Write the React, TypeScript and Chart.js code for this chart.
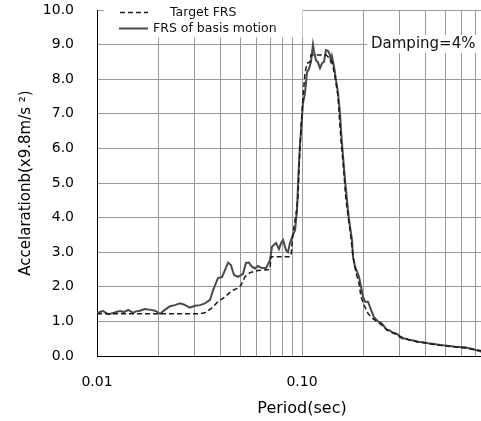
import React, { useEffect, useRef } from "react";
import { Chart, registerables } from "chart.js";

Chart.register(...registerables);

const FONT = "'DejaVu Sans', sans-serif";

// Target FRS (dashed)
const targetPeriods = [
  0.01, 0.0318, 0.0336, 0.0364, 0.0389, 0.0421, 0.0455, 0.0487, 0.0504, 0.0527,
  0.0558, 0.061, 0.0683, 0.0698, 0.0706, 0.0874, 0.0885, 0.0904, 0.0935, 0.0956,
  0.0975, 0.0989, 0.1011, 0.1034, 0.1058, 0.1095, 0.1106, 0.1309, 0.1339, 0.1401,
  0.1449, 0.1499, 0.1533, 0.1562, 0.1591, 0.1639, 0.1715, 0.1774, 0.1835, 0.1897,
  0.1941, 0.2007, 0.2099, 0.2195, 0.2348, 0.2484, 0.26, 0.278, 0.294, 0.31,
  0.34, 0.37, 0.41, 0.47, 0.56, 0.62, 0.68, 0.75, 1.0,
];
const targetValues = [
  1.22, 1.22, 1.25, 1.39, 1.57, 1.71, 1.89, 1.96, 2.05, 2.29,
  2.41, 2.47, 2.49, 2.52, 2.87, 2.87, 2.92, 3.55, 4.1, 4.6,
  5.9, 6.6, 7.5, 8.17, 8.46, 8.5, 8.7, 8.7, 8.65, 8.5,
  8.07, 7.5, 6.6, 6.0, 5.5, 4.5, 3.64, 2.87, 2.39, 2.1,
  1.71, 1.47, 1.23, 1.1, 0.97, 0.87, 0.75, 0.66, 0.6, 0.53,
  0.45, 0.4, 0.36, 0.31, 0.26, 0.23, 0.2, 0.15, 0.1,
];

// FRS of basis motion (solid)
const basisPeriods = [
  0.01, 0.0104, 0.0107, 0.0111, 0.0114, 0.012, 0.0125, 0.013, 0.0135, 0.0142,
  0.015, 0.0155, 0.0162, 0.0171, 0.018, 0.0192, 0.0203, 0.0215, 0.0227, 0.024,
  0.0254, 0.0265, 0.0284, 0.0301, 0.0318, 0.0336, 0.0356, 0.0368, 0.038, 0.0389,
  0.0407, 0.0421, 0.0436, 0.045, 0.0466, 0.0487, 0.0515, 0.0533, 0.0551, 0.057,
  0.059, 0.061, 0.0638, 0.0667, 0.0698, 0.0714, 0.0747, 0.0772, 0.079, 0.0808,
  0.0836, 0.0854, 0.0874, 0.0904, 0.0925, 0.0945, 0.096, 0.0975, 0.0989, 0.1011,
  0.1034, 0.1058, 0.1082, 0.1106, 0.1131, 0.1144, 0.117, 0.1197, 0.1224, 0.1252,
  0.128, 0.1309, 0.1339, 0.137, 0.1385, 0.1401, 0.1433, 0.1465, 0.1499, 0.1533,
  0.1562, 0.1591, 0.1621, 0.1658, 0.1696, 0.1754, 0.1774, 0.1814, 0.1855, 0.1897,
  0.1941, 0.1985, 0.203, 0.2099, 0.2171, 0.2245, 0.2348, 0.242, 0.2484, 0.254,
  0.2598, 0.268, 0.2779, 0.286, 0.2939, 0.3, 0.3074, 0.32, 0.3363, 0.35,
  0.3681, 0.39, 0.4117, 0.44, 0.4711, 0.51, 0.5576, 0.6239, 0.675, 0.7467,
  0.85, 1.0,
];
const basisValues = [
  1.24, 1.28, 1.3, 1.24, 1.21, 1.24, 1.28, 1.3, 1.27, 1.33,
  1.25, 1.29, 1.31, 1.36, 1.34, 1.31, 1.22, 1.34, 1.44, 1.47,
  1.52, 1.49, 1.4, 1.45, 1.47, 1.52, 1.62, 1.9, 2.1, 2.25,
  2.28, 2.48, 2.7, 2.63, 2.34, 2.29, 2.37, 2.69, 2.7, 2.58,
  2.53, 2.6, 2.54, 2.54, 2.77, 3.16, 3.27, 3.09, 3.26, 3.35,
  3.06, 3.0, 3.27, 3.5, 3.64, 4.2, 5.2, 6.0, 6.5, 7.3,
  7.6, 8.2, 8.3, 8.5, 9.0, 8.8, 8.55, 8.48, 8.32, 8.46,
  8.5, 8.84, 8.82, 8.7, 8.46, 8.65, 8.36, 7.98, 7.6, 7.0,
  6.24, 5.66, 5.09, 4.5, 3.93, 3.35, 2.87, 2.58, 2.44, 2.29,
  2.0, 1.71, 1.57, 1.57, 1.33, 1.12, 1.0, 0.97, 0.9, 0.82,
  0.76, 0.74, 0.67, 0.66, 0.62, 0.55, 0.51, 0.5, 0.46, 0.45,
  0.41, 0.4, 0.37, 0.35, 0.32, 0.3, 0.27, 0.25, 0.2, 0.13,
  0.1, 0.08,
];

const xGridValues = [
  0.01, 0.02, 0.03, 0.04, 0.05, 0.06, 0.07, 0.08, 0.09,
  0.1, 0.2, 0.3, 0.4, 0.5, 0.6, 0.7, 0.8, 0.9, 1.0,
];
const xLabelValues = [0.01, 0.1];

const seriesLabels = ["Target FRS", "FRS of basis motion"];
const dampingText = "Damping=4%";
const xTitle = "Period(sec)";
const yTitle = "Accelarationb(x9.8m/s \u00B2)";

const overlayPlugin = {
  id: "overlay",
  afterDraw(chart: any) {
    const { ctx, chartArea } = chart;
    const ds = chart.data.datasets;
    ctx.save();
    // legend box
    ctx.fillStyle = "#ffffff";
    ctx.fillRect(chartArea.left + 7, 0, 198.5, 37.5);
    const items = [
      { y: 12.5, x0: chartArea.left + 23, x1: chartArea.left + 51, tx: chartArea.left + 73, d: ds[0] },
      { y: 28.5, x0: chartArea.left + 22, x1: chartArea.left + 51, tx: chartArea.left + 56, d: ds[1] },
    ];
    ctx.font = "12.5px " + FONT;
    ctx.textBaseline = "middle";
    ctx.textAlign = "left";
    for (const it of items) {
      ctx.beginPath();
      ctx.strokeStyle = it.d.borderColor;
      ctx.lineWidth = it.d.borderWidth;
      ctx.setLineDash(it.d.borderDash || []);
      ctx.moveTo(it.x0, it.y);
      ctx.lineTo(it.x1, it.y);
      ctx.stroke();
      ctx.setLineDash([]);
      ctx.fillStyle = "#111";
      ctx.fillText(it.d.label, it.tx, it.y);
    }
    // damping box
    ctx.fillStyle = "#ffffff";
    ctx.fillRect(367, 35, chart.width - 367, 18);
    ctx.fillStyle = "#111";
    ctx.font = "15px " + FONT;
    ctx.fillText(dampingText, 371, 44.5);
    ctx.restore();
  },
};

const zeroPad = (s: any) => {
  s.paddingTop = 0;
  s.paddingBottom = 0;
  s.paddingLeft = 0;
  s.paddingRight = 0;
};

export default function App() {
  const ref = useRef<HTMLCanvasElement>(null);
  useEffect(() => {
    if (!ref.current) return;
    const chart = new Chart(ref.current, {
      type: "line",
      data: {
        datasets: [
          {
            label: seriesLabels[0],
            data: targetPeriods.map((p, i) => ({ x: p, y: targetValues[i] })),
            borderColor: "#1a1a1a",
            borderWidth: 1.5,
            borderDash: [5, 3],
            pointRadius: 0,
            fill: false,
            tension: 0,
          },
          {
            label: seriesLabels[1],
            data: basisPeriods.map((p, i) => ({ x: p, y: basisValues[i] })),
            borderColor: "#4a4a4a",
            borderWidth: 2,
            pointRadius: 0,
            fill: false,
            tension: 0,
          },
        ],
      },
      options: {
        responsive: false,
        animation: false,
        layout: { padding: { left: 0, right: 13, top: 10, bottom: 0 } },
        plugins: {
          legend: { display: false },
          tooltip: { enabled: false },
        },
        scales: {
          x: {
            type: "logarithmic",
            min: 0.01,
            max: 1.0,
            afterFit: (s: any) => {
              s.height = 65;
              zeroPad(s);
            },
            afterBuildTicks: (s: any) => {
              s.ticks = xGridValues.map((v) => ({ value: v }));
            },
            ticks: {
              autoSkip: false,
              maxRotation: 0,
              padding: 17.5,
              color: "#000",
              font: { family: FONT, size: 14 },
              callback: (v: any) =>
                xLabelValues.some((l) => Math.abs(l - Number(v)) < 1e-9) ? Number(v).toFixed(2) : "",
            },
            grid: { color: "#999", lineWidth: 1, drawTicks: false },
            border: { display: true, color: "#000", width: 1 },
            title: {
              display: true,
              text: xTitle,
              color: "#000",
              font: { family: FONT, size: 16 },
              padding: { top: 0, bottom: 3 },
            },
          },
          y: {
            min: 0,
            max: 10,
            afterFit: (s: any) => {
              s.width = 97;
              zeroPad(s);
            },
            ticks: {
              stepSize: 1,
              padding: 23,
              color: "#000",
              font: { family: FONT, size: 14 },
              callback: (v: any) => Number(v).toFixed(1),
            },
            grid: { color: "#999", lineWidth: 1, drawTicks: false },
            border: { display: true, color: "#000", width: 1 },
            title: {
              display: true,
              text: yTitle,
              color: "#000",
              font: { family: FONT, size: 15 },
              padding: { top: 17, bottom: 0 },
            },
          },
        },
      },
      plugins: [overlayPlugin],
    });
    return () => chart.destroy();
  }, []);
  return (
    <div
      style={{
        position: "absolute",
        left: 0,
        top: 0,
        width: 481,
        height: 421,
        overflow: "hidden",
        background: "#fff",
      }}
    >
      <canvas ref={ref} width={520} height={421} style={{ display: "block" }} />
    </div>
  );
}
